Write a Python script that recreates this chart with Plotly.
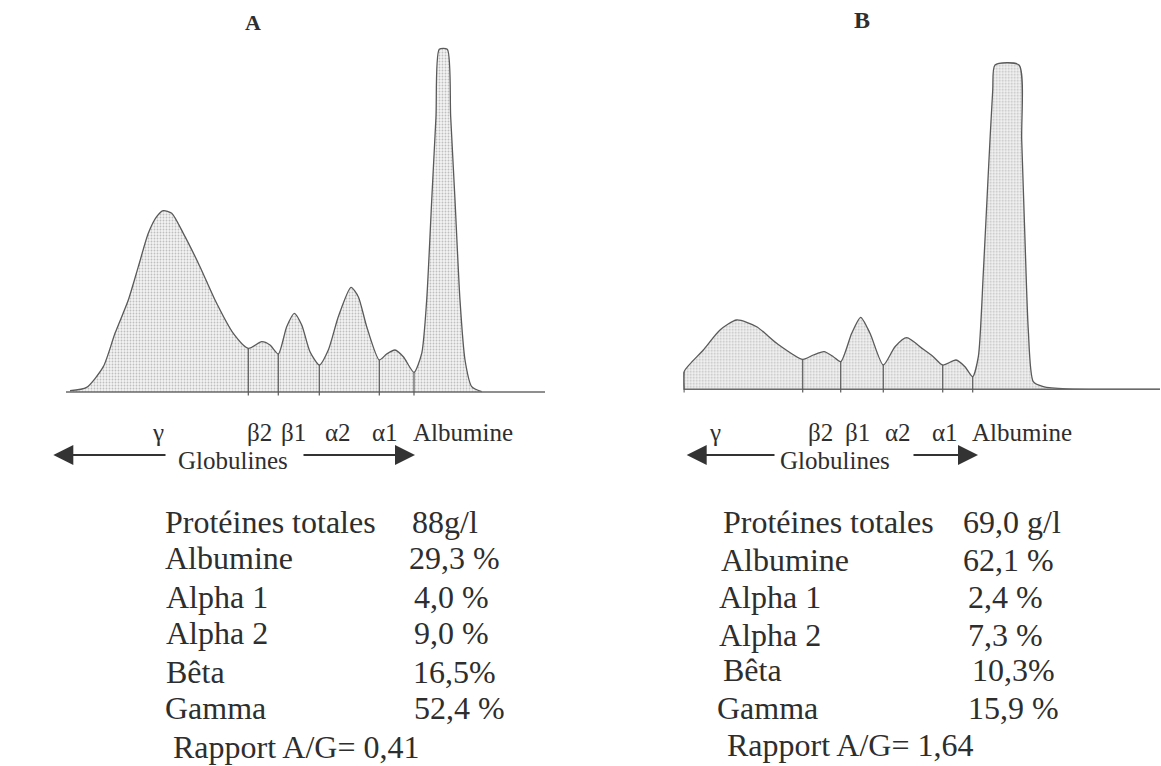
import plotly.graph_objects as go

W, H = 1161, 766

# ---------------- data ----------------
# Panel A densitogram: migration (0-100, arbitrary) vs relative absorbance (0-100, albumin clipped)
a_x = [0.84, 4.31, 7.79, 10.23, 13.01, 15.10, 17.18, 18.93, 20.31, 22.07, 24.49, 27.97, 31.11,
       34.93, 38.06, 40.86, 42.59, 44.32, 46.07, 47.66, 49.21, 50.94, 52.88, 54.76, 56.85,
       59.50, 61.02, 62.78, 65.41, 66.95, 68.68, 70.42, 72.65, 74.26, 75.30, 76.35, 77.24,
       77.93, 79.60, 80.31, 81.21, 82.25, 83.30, 84.70, 86.78]
a_y = [0.38, 1.36, 7.39, 17.12, 26.85, 36.57, 46.30, 51.16, 52.91, 52.14, 46.30, 36.57, 26.85,
       17.12, 12.75, 14.68, 13.71, 11.09, 19.05, 22.96, 19.55, 11.76, 7.88, 12.26, 21.97,
       30.55, 27.81, 19.05, 9.34, 11.09, 12.26, 10.30, 5.75, 11.29, 26.85, 56.03, 80.33,
       100.0, 100.0, 80.33, 56.03, 26.85, 9.34, 1.55, 0.09]
a_sep_x = [38.06, 44.32, 52.88, 65.41, 72.65]
a_sep_y = [12.75, 11.09, 7.88, 9.34, 5.75]

# Panel B densitogram
b_x = [0.15, 0.15, 4.20, 7.70, 11.20, 15.40, 19.59, 25.05, 27.27, 29.52, 31.47, 33.02, 35.33,
       37.21, 39.17, 41.95, 44.41, 46.86, 50.35, 52.44, 54.42, 57.21, 59.09, 60.71, 61.89,
       62.93, 63.98, 64.91, 65.39, 70.42, 70.99, 71.68, 72.37, 73.42, 75.52, 80.43, 100.0]
b_y = [0.0, 5.43, 12.12, 18.29, 21.37, 19.30, 14.18, 9.25, 10.58, 11.59, 10.05, 8.51, 17.27,
       22.20, 17.27, 7.49, 13.14, 15.91, 12.33, 10.05, 7.49, 9.03, 6.97, 3.89, 10.05,
       35.77, 66.60, 92.29, 100.0, 100.0, 76.87, 46.04, 18.29, 2.34, 0.80, 0.10, 0.0]
b_sep_x = [0.15, 25.05, 33.02, 41.95, 54.42, 60.71]
b_sep_y = [5.43, 9.25, 8.51, 7.49, 7.49, 3.89]

fractions = ["γ", "β2", "β1", "α2", "α1", "Albumine"]
a_label_x = [19.3, 40.5, 47.4, 56.8, 66.6, 82.8]
b_label_x = [6.6, 28.7, 36.6, 45.0, 54.9, 71.0]

row_names = ["Protéines totales", "Albumine", "Alpha 1", "Alpha 2", "Bêta", "Gamma"]
a_values = ["88g/l", "29,3 %", "4,0 %", "9,0 %", "16,5%", "52,4 %"]
b_values = ["69,0 g/l", "62,1 %", "2,4 %", "7,3 %", "10,3%", "15,9 %"]
a_ratio = "Rapport A/G= 0,41"
b_ratio = "Rapport A/G= 1,64"

# ---------------- layout helpers (pixel positions) ----------------
def PX(x):
    return x / W

def PY(y):
    return 1 - y / H

FONT = "Liberation Serif, Times New Roman, serif"
TXT = "#2e2e2e"
LINE = "#5a5a5a"

fig = go.Figure()

def add_panel(xs, ys, sx, sy, xa, ya):
    fig.add_trace(go.Scatter(
        x=xs, y=ys, mode="lines", xaxis=xa, yaxis=ya,
        line=dict(color=LINE, width=1.3, shape="spline", smoothing=0.65),
        fill="tozeroy", fillcolor="#e6e6e6",
        fillpattern=dict(shape=".", fgcolor="#8a8a8a", bgcolor="#f3f3f3", size=3, solidity=0.3),
        hoverinfo="skip", showlegend=False))
    # baseline
    fig.add_trace(go.Scatter(x=[0, 100], y=[0, 0], mode="lines", xaxis=xa, yaxis=ya,
                             line=dict(color="#6a6a6a", width=1.6),
                             hoverinfo="skip", showlegend=False))
    # fraction separators
    lx, ly = [], []
    for s, t in zip(sx, sy):
        lx += [s, s, None]
        ly += [-1.0, t, None]
    fig.add_trace(go.Scatter(x=lx, y=ly, mode="lines", xaxis=xa, yaxis=ya,
                             line=dict(color=LINE, width=1.2),
                             hoverinfo="skip", showlegend=False))

add_panel(a_x, a_y, a_sep_x, a_sep_y, "x", "y")
add_panel(b_x, b_y, b_sep_x, b_sep_y, "x2", "y2")

# axes: panel A baseline px 392 (3.427 px/unit), panel B baseline px 389.3 (3.243 px/unit)
a_top, a_bot = 392 - 103 * 3.427, 392 + 3 * 3.427
b_top, b_bot = 389.3 - 103 * 3.243, 389.3 + 3 * 3.243
ax_common = dict(visible=False, showgrid=False, zeroline=False, fixedrange=True)
fig.update_layout(
    xaxis=dict(domain=[PX(66), PX(545)], range=[0, 100], **ax_common),
    yaxis=dict(domain=[PY(a_bot), PY(a_top)], range=[-3, 103], **ax_common),
    xaxis2=dict(domain=[PX(683.3), PX(1160)], range=[0, 100], anchor="y2", **ax_common),
    yaxis2=dict(domain=[PY(b_bot), PY(b_top)], range=[-3, 103], anchor="x2", **ax_common),
)

ann = []
# titles
ann.append(dict(text="<b>A</b>", x=PX(253), y=PY(22), xref="paper", yref="paper",
                xanchor="center", yanchor="middle",
                showarrow=False, font=dict(family=FONT, size=22, color=TXT)))
ann.append(dict(text="<b>B</b>", x=PX(862), y=PY(20), xref="paper", yref="paper",
                xanchor="center", yanchor="middle",
                showarrow=False, font=dict(family=FONT, size=24, color=TXT)))

# fraction labels
for xa, xs in (("x", a_label_x), ("x2", b_label_x)):
    for name, xv in zip(fractions, xs):
        ann.append(dict(text=name, x=xv, xref=xa, y=PY(432), yref="paper",
                        showarrow=False, xanchor="center", yanchor="middle",
                        font=dict(family=FONT, size=25, color=TXT)))

# Globulines with arrows
for cx in (233, 835):
    ann.append(dict(text="Globulines", x=PX(cx), y=PY(460), xref="paper", yref="paper",
                    xanchor="center", yanchor="middle",
                    showarrow=False, font=dict(family=FONT, size=25, color=TXT)))
for tip, tail in ((53.3, 167), (415, 302), (686.7, 776), (978, 912)):
    ann.append(dict(text="", x=PX(tip), y=PY(455), xref="paper", yref="paper",
                    showarrow=True, ax=tail - tip, ay=0, arrowhead=2, arrowsize=2,
                    arrowwidth=2, arrowcolor="#333333", standoff=0))

# tables
a_name_x = [165, 165, 166, 166, 166, 165]
a_val_x = [411.7, 409.3, 414, 414, 413.3, 414]
a_row_y = [521.7, 558.3, 596.7, 633.3, 671.7, 708.3]
b_name_x = [723, 720.7, 719, 719, 723, 717]
b_val_x = [963, 963, 968, 968, 971.7, 968]
b_row_y = [521.7, 560, 596.7, 635, 670, 708.3]

def add_table(names, vals, nx, vx, ry, ratio, rx, rry):
    for n, v, x1, x2, yy in zip(names, vals, nx, vx, ry):
        ann.append(dict(text=n, x=PX(x1 - 2), y=PY(yy), xref="paper", yref="paper",
                        showarrow=False, xanchor="left", yanchor="middle",
                        font=dict(family=FONT, size=32, color=TXT)))
        ann.append(dict(text=v, x=PX(x2 - 2), y=PY(yy), xref="paper", yref="paper",
                        showarrow=False, xanchor="left", yanchor="middle",
                        font=dict(family=FONT, size=32, color=TXT)))
    ann.append(dict(text=ratio, x=PX(rx - 2), y=PY(rry), xref="paper", yref="paper",
                    showarrow=False, xanchor="left", yanchor="middle",
                    font=dict(family=FONT, size=32, color=TXT)))

add_table(row_names, a_values, a_name_x, a_val_x, a_row_y, a_ratio, 173.3, 746.7)
add_table(row_names, b_values, b_name_x, b_val_x, b_row_y, b_ratio, 726.7, 745)

fig.update_layout(
    width=W, height=H, margin=dict(l=0, r=0, t=0, b=0),
    paper_bgcolor="white", plot_bgcolor="white",
    showlegend=False, annotations=ann,
)

fig.write_html("out.html", config={"displayModeBar": False},
               post_script="document.body.style.margin='0px';document.body.style.overflow='hidden';")
